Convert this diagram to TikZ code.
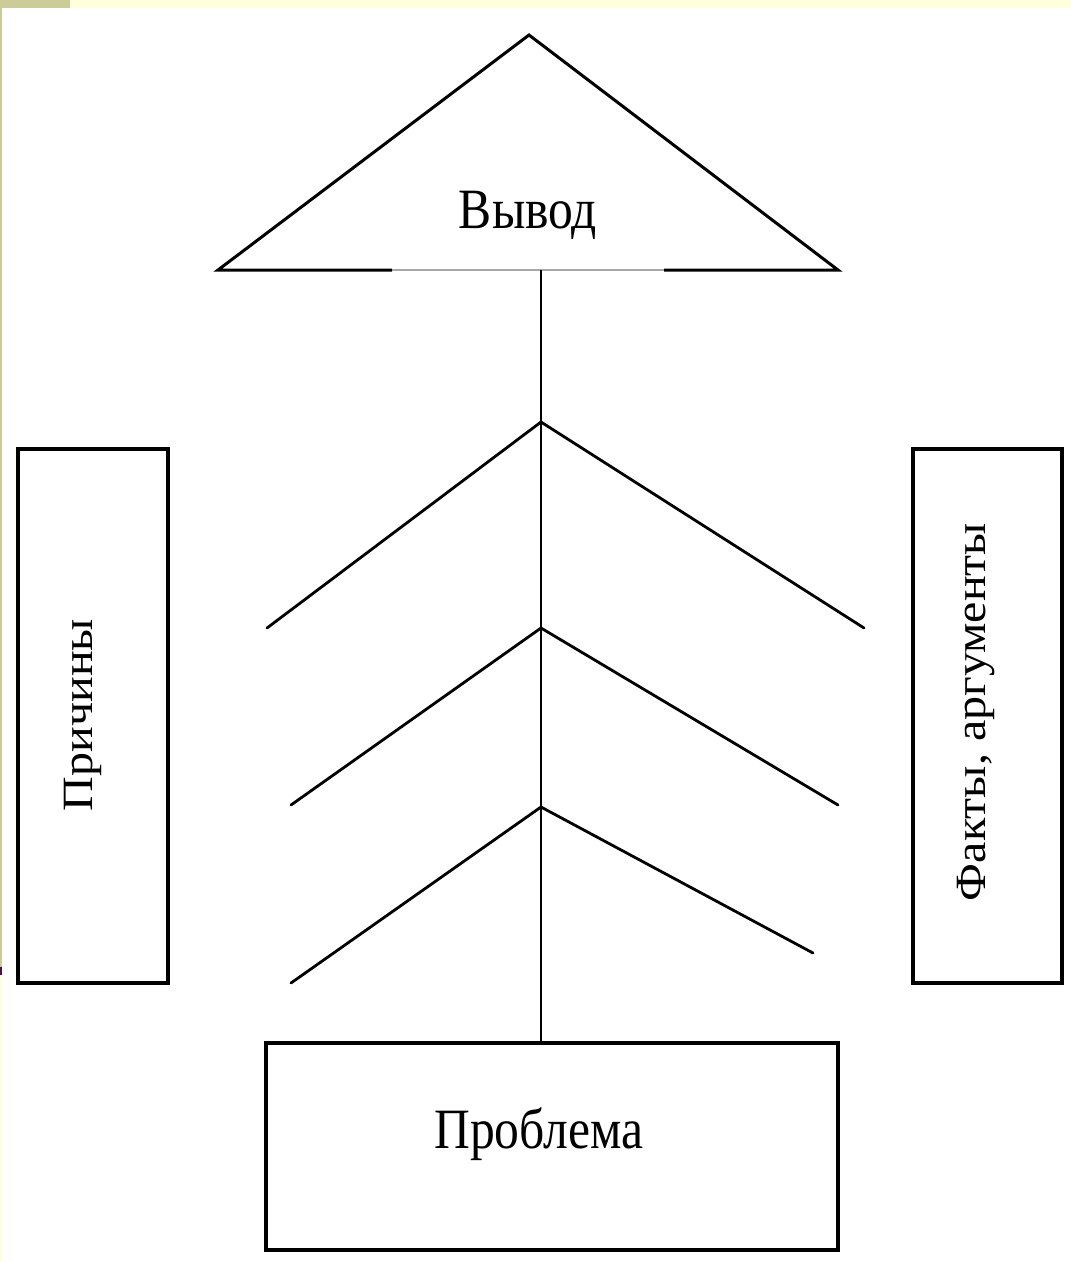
\documentclass[tikz,border=0pt]{standalone}
\usepackage{fontspec}
\setmainfont{Liberation Serif}
\definecolor{slideolive}{HTML}{CCCC99}
\definecolor{slideyellow}{HTML}{FFFFDD}
\definecolor{slidepurple}{HTML}{4A1048}
\definecolor{basegray}{HTML}{A8A8A8}
\tikzset{
  framebox/.style={draw=black, line width=3.2pt, fill=white, inner sep=0pt},
  stroke/.style={draw=black, line width=2.8pt, line cap=round},
  tristroke/.style={draw=black, line width=3pt, line join=miter},
  htext/.style={font=\fontsize{57}{60}\selectfont, inner sep=0pt, anchor=base},
  vtext/.style={font=\fontsize{48}{52}\selectfont, inner sep=0pt, anchor=base, rotate=90},
}
\begin{document}
\begin{tikzpicture}[x=1pt,y=-1pt]
\useasboundingbox (0,0) rectangle (1071,1262);
\fill[white] (0,0) rectangle (1071,1262);
% slide decoration
\fill[slideyellow] (0,0) rectangle (1071,8);
\fill[slideolive] (0,0) rectangle (70,8);
\fill[slideolive] (0,8) rectangle (2,967);
\fill[slidepurple] (0,967) rectangle (2,975);
\fill[slideyellow] (0,975) rectangle (2,1262);

% triangle "Вывод"
\coordinate (apex) at (529,35);
\coordinate (tl) at (218,270);
\coordinate (tr) at (838,270);
\coordinate (gl) at (392,270);
\coordinate (gr) at (664,270);
\coordinate (stem) at (541,270);
\draw[tristroke] (gl) -- (tl) -- (apex) -- (tr) -- (gr);
\draw[basegray, line width=2.4pt] (gl) -- (gr);
\node[htext] (conclusion) at (528,228) {\scalebox{0.87}[1]{Вывод}};

% boxes
\node[framebox, minimum width=150pt, minimum height=534pt] (causes) at (93,716) {};
\node[vtext] (causestext) at (92,715) {\scalebox{1}[0.9]{Причины}};
\node[framebox, minimum width=149pt, minimum height=534pt] (facts) at (987.5,716) {};
\node[vtext] (factstext) at (985,712) {\scalebox{1}[0.9]{Факты, аргументы}};
\node[framebox, minimum width=572pt, minimum height=207pt] (problem) at (552,1146.5) {};
\node[htext] (problemtext) at (539,1148) {\scalebox{0.87}[1]{Проблема}};

% spine
\draw[stroke, line width=2.4pt, line cap=butt] (stem) -- (stem |- problem.north);

% chevrons
\coordinate (c1) at (541,422);
\coordinate (c1l) at (267,628);
\coordinate (c1r) at (864,628);
\coordinate (c2) at (541,628);
\coordinate (c2l) at (291,805);
\coordinate (c2r) at (838,805);
\coordinate (c3) at (541,807);
\coordinate (c3l) at (291,983);
\coordinate (c3r) at (813,953);
\draw[stroke] (c1l) -- (c1) -- (c1r);
\draw[stroke] (c2l) -- (c2) -- (c2r);
\draw[stroke] (c3l) -- (c3) -- (c3r);
\end{tikzpicture}
\end{document}
